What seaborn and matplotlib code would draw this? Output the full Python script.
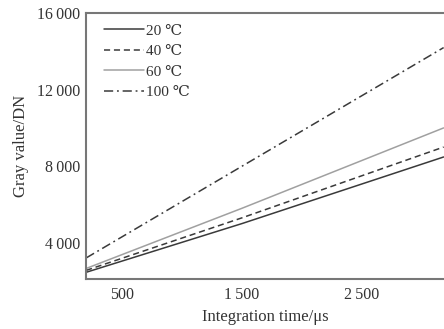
import matplotlib
matplotlib.use("Agg")
import matplotlib.pyplot as plt
import seaborn as sns
import pandas as pd

integration_time = [200, 1500, 3180]
gray_20 = [2450, 5000, 8480]
gray_40 = [2550, 5300, 9000]
gray_60 = [2650, 5800, 10000]
gray_100 = [3200, 8000, 14200]
labels = ["20 \u2103", "40 \u2103", "60 \u2103", "100 \u2103"]
x_ticks = [500, 1500, 2500]
x_tick_labels = ["500", "1\u2009500", "2\u2009500"]
y_ticks = [4000, 8000, 12000, 16000]
y_tick_labels = ["4\u2009000", "8\u2009000", "12\u2009000", "16\u2009000"]

sns.set_style("white")
plt.rcParams['font.family'] = ['Liberation Serif', 'DejaVu Serif']

rows = []
for lab, vals in zip(labels, [gray_20, gray_40, gray_60, gray_100]):
    for t, v in zip(integration_time, vals):
        rows.append({"t": t, "v": v, "series": lab})
df = pd.DataFrame(rows)

fig = plt.figure(figsize=(4.44, 3.29), dpi=100)
ax = fig.add_axes([0.194, 0.152, 0.806, 0.808])

styles = {
    labels[0]: dict(color="#3a3a3a", ls="-", lw=1.1),
    labels[1]: dict(color="#3a3a3a", ls=(0, (4, 2.5)), lw=1.1),
    labels[2]: dict(color="#a0a0a0", ls="-", lw=1.1),
    labels[3]: dict(color="#3a3a3a", ls=(0, (6, 2.5, 1.2, 2.5)), lw=1.1),
}
for lab in labels:
    sub = df[df.series == lab]
    sns.lineplot(data=sub, x="t", y="v", ax=ax, label=lab, **styles[lab])

ax.set_xlim(200, 3183)
ax.set_ylim(2100, 16000)
ax.set_xticks(x_ticks)
ax.set_xticklabels(x_tick_labels)
ax.set_yticks(y_ticks)
ax.set_yticklabels(y_tick_labels)
ax.tick_params(direction="in", length=3, width=1, colors="#555555", labelcolor="#333333",
               labelsize=11.5)
ax.tick_params(axis="x", pad=6)
ax.tick_params(axis="y", pad=4)
ax.set_xlabel("Integration time/\u03bcs", fontsize=12, color="#333333", labelpad=4)
ax.set_ylabel("Gray value/DN", fontsize=12, color="#333333", labelpad=6)
for s in ["left", "bottom", "top"]:
    ax.spines[s].set_color("#777777")
    ax.spines[s].set_linewidth(1.5)
ax.spines["right"].set_visible(False)

leg = ax.legend(loc="upper left", frameon=False, fontsize=11, handlelength=2.6,
                handletextpad=0.15, labelspacing=0.45, borderaxespad=0.3,
                bbox_to_anchor=(0.02, 1.0))
for t in leg.get_texts():
    t.set_color("#333333")

fig.savefig("out.png", dpi=100)
